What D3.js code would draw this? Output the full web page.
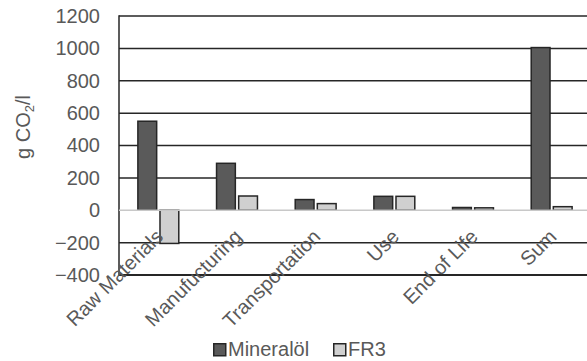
<!DOCTYPE html>
<html>
<head>
<meta charset="utf-8">
<script src="https://cdn.jsdelivr.net/npm/d3@7"></script>
<style>
  html, body { margin: 0; padding: 0; background: #fff; }
  svg { display: block; }
  text { font-family: "Liberation Sans", Arial, sans-serif; fill: #595959; }
</style>
</head>
<body>
<svg id="chart" width="587" height="361"></svg>
<script>
const categories = ["Raw Materials", "Manufucturing", "Transportation", "Use", "End of Life", "Sum"];
const seriesNames = ["Mineralöl", "FR3"];
const mineraloel = [550, 290, 66, 86, 17, 1005];
const fr3 = [-205, 88, 41, 86, 15, 22];
const yTicks = [-400, -200, 0, 200, 400, 600, 800, 1000, 1200];
const colors = ["#5a5a5a", "#d0d0d0"];

const svg = d3.select("#chart");
const pLeft = 119, pRight = 591, pTop = 16, pBottom = 275;
const fs = 20;

const y = d3.scaleLinear().domain([-400, 1200]).range([pBottom, pTop]);
const x0 = d3.scaleBand().domain(categories).range([pLeft, pRight]).paddingInner(0.48).paddingOuter(0.24);
const x1 = d3.scaleBand().domain(seriesNames).range([0, x0.bandwidth()]).paddingInner(0.15);

// gridlines
svg.append("g").selectAll("line").data(yTicks.filter(t => t !== 0 && t !== -400))
  .join("line")
  .attr("x1", pLeft).attr("x2", pRight)
  .attr("y1", d => y(d)).attr("y2", d => y(d))
  .attr("stroke", "#262626").attr("stroke-width", 1.5);

// bottom border
svg.append("line").attr("x1", pLeft).attr("x2", pRight)
  .attr("y1", y(-400)).attr("y2", y(-400))
  .attr("stroke", "#262626").attr("stroke-width", 2);

// left axis
svg.append("line").attr("x1", pLeft).attr("x2", pLeft)
  .attr("y1", pTop - 0.75).attr("y2", pBottom + 1)
  .attr("stroke", "#262626").attr("stroke-width", 1.5);

// bars
const data = categories.map((c, i) => ({ c, vals: [mineraloel[i], fr3[i]] }));
const groups = svg.append("g").selectAll("g").data(data).join("g")
  .attr("transform", d => `translate(${x0(d.c)},0)`);
groups.selectAll("rect").data(d => d.vals.map((v, j) => ({ v, s: seriesNames[j], j })))
  .join("rect")
  .attr("x", d => x1(d.s))
  .attr("width", x1.bandwidth())
  .attr("y", d => Math.min(y(d.v), y(0)))
  .attr("height", d => Math.abs(y(d.v) - y(0)))
  .attr("fill", d => colors[d.j])
  .attr("stroke", "#262626").attr("stroke-width", 1.5);

// zero (category) axis line
svg.append("line").attr("x1", pLeft).attr("x2", pRight)
  .attr("y1", y(0)).attr("y2", y(0))
  .attr("stroke", "#c8c8c8").attr("stroke-width", 1.5);

// y tick labels
const yAxis = d3.axisLeft(y).tickValues(yTicks).tickFormat(d3.format("d")).tickSize(0).tickPadding(19);
const ya = svg.append("g").attr("transform", `translate(${pLeft},0)`).call(yAxis);
ya.select(".domain").remove();
ya.selectAll("text").attr("font-size", fs).attr("fill", "#595959")
  .style("font-family", '"Liberation Sans", Arial, sans-serif');

// category labels
svg.append("g").selectAll("text").data(categories).join("text")
  .attr("transform", d => `translate(${x0(d) + x0.bandwidth() / 2 + 6},${238}) rotate(-45)`)
  .attr("text-anchor", "end")
  .attr("font-size", fs)
  .text(d => d);

// y title
const yt = svg.append("text")
  .attr("transform", `translate(30,127) rotate(-90)`)
  .attr("text-anchor", "middle")
  .attr("font-size", fs);
yt.append("tspan").text("g CO");
yt.append("tspan").text("2").attr("font-size", 13).attr("dy", 4);
yt.append("tspan").text("/l").attr("dy", -4);

// legend
const legendItems = [{ name: "Mineralöl", x: 213 }, { name: "FR3", x: 333 }];
const lg = svg.append("g");
legendItems.forEach((it, i) => {
  lg.append("rect").attr("x", it.x + 0.75).attr("y", 343.75).attr("width", 12).attr("height", 12)
    .attr("fill", colors[i]).attr("stroke", "#262626").attr("stroke-width", 1.5);
  lg.append("text").attr("x", it.x + 15).attr("y", 356).attr("font-size", fs).text(it.name);
});
</script>
</body>
</html>
